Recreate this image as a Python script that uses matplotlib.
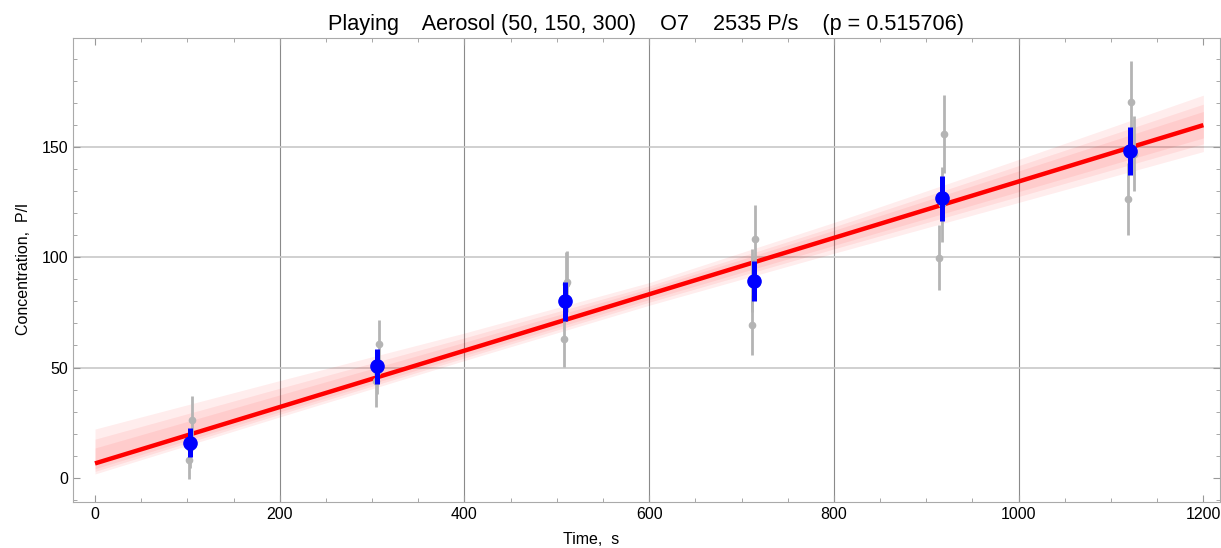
import numpy as np
from matplotlib import pyplot as plt

plt.rcParams['font.family'] = ['Liberation Sans', 'DejaVu Sans']

# replicate measurements (grey)
rep_t = [104.7, 102.1, 103.0,
         307.0, 304.0, 305.5,
         510.0, 508.0, 511.0,
         715.0, 710.8, 711.8,
         918.7, 914.0, 916.8,
         1121.6, 1118.0, 1124.4]
rep_c = [26.2, 8.2, 13.3,
         60.8, 44.0, 48.0,
         88.0, 63.0, 89.0,
         108.2, 69.1, 89.5,
         155.9, 99.9, 124.0,
         170.6, 126.5, 147.0]
rep_err = [11.1, 8.7, 9.0,
           10.6, 12.0, 10.0,
           14.4, 12.9, 14.0,
           15.4, 13.6, 14.5,
           17.7, 14.9, 17.0,
           18.6, 16.5, 17.0]

# group means (blue)
mean_t = [103, 305.4, 509, 713, 917, 1121]
mean_c = [15.9, 50.6, 80.0, 89.1, 126.7, 148.2]
mean_err = [6.6, 7.9, 8.9, 9.1, 10.0, 10.9]

# fitted line
fit_intercept = 6.5
fit_slope = 0.1279

# confidence band offsets from the fit line (outer, middle, inner)
band_t = [0, 200, 400, 600, 800, 1000, 1200]
band_up = [[15.6, 12.0, 8.0, 5.3, 7.0, 10.0, 13.6],
           [11.0, 8.5, 5.8, 3.8, 5.0, 7.2, 9.5],
           [7.0, 5.5, 3.8, 2.6, 3.4, 4.8, 6.2]]
band_lo = [[4.8, 4.5, 4.5, 5.0, 7.0, 9.5, 12.0],
           [3.6, 3.3, 3.3, 3.6, 5.0, 6.8, 8.5],
           [2.4, 2.2, 2.2, 2.4, 3.4, 4.6, 5.8]]

xgrid = [200, 400, 600, 800, 1000]
ygrid = [50, 100, 150]

title = "Playing    Aerosol (50, 150, 300)    O7    2535 P/s    (p = 0.515706)"

W, H = 1221, 548
fig = plt.figure(figsize=(W / 100, H / 100), dpi=100)
ax = fig.add_axes([73 / W, 46 / H, 1147 / W, 464 / H])

for g in xgrid:
    ax.axvline(g, color='#8a8a8a', lw=0.8, zorder=0)
for g in ygrid:
    ax.axhline(g, color='#c8c8c8', lw=1.2, zorder=0)

bt = np.array(band_t)
line_b = fit_intercept + fit_slope * bt
for up, lo in zip(band_up, band_lo):
    ax.fill_between(bt, line_b - np.array(lo), line_b + np.array(up),
                    color='#ff0000', alpha=0.07, lw=0, zorder=1)

ax.plot(bt, line_b, color='#ff0000', lw=3.2, zorder=2, solid_capstyle='butt')

ax.errorbar(rep_t, rep_c, yerr=rep_err, fmt='o', color='#b4b4b4', ms=4.5,
            elinewidth=2.0, capsize=0, zorder=3)
ax.errorbar(mean_t, mean_c, yerr=mean_err, fmt='o', color='#0000ff', ms=9.5,
            elinewidth=3.6, capsize=0, zorder=4)

ax.set_xlim(-23.8, 1218)
ax.set_ylim(-11, 199.5)
ax.set_xticks(np.arange(0, 1201, 200))
ax.set_xticks(np.arange(-0, 1201, 50), minor=True)
ax.set_yticks([0, 50, 100, 150])
ax.set_yticks(np.arange(-10, 200, 10), minor=True)
ax.tick_params(which='both', direction='in', top=True, right=True,
               color='#999999', labelsize=11.5)
ax.tick_params(which='major', length=5, width=0.8)
ax.tick_params(which='minor', length=3, width=0.6)
for s in ax.spines.values():
    s.set_color('#aaaaaa')

ax.set_xlabel("Time,  s", fontsize=11.5)
ax.set_ylabel("Concentration,  P/l", fontsize=11.5)
# label centres as placed in the reference
ax.xaxis.set_label_coords((591 - 73) / 1147, -0.065)
ax.yaxis.set_label_coords(-0.0366, (510 - 277) / 464)
ax.set_title(title, fontsize=15.6, pad=6)

fig.savefig("out.png", dpi=100)
